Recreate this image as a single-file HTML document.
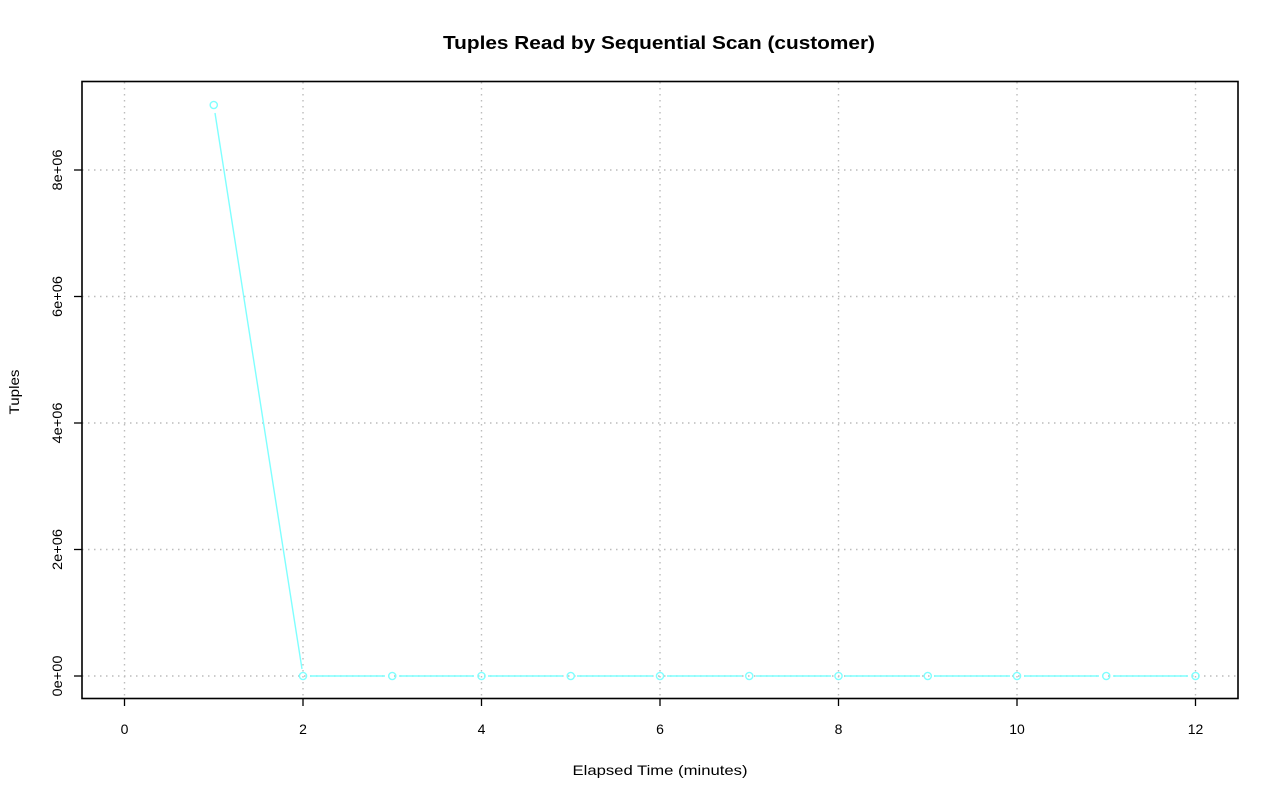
<!DOCTYPE html>
<html><head><meta charset="utf-8"><style>
html,body{margin:0;padding:0;background:#fff;}
svg{display:block;font-family:"Liberation Sans",Arial,sans-serif;}
</style></head><body>
<svg width="1280" height="801" viewBox="0 0 1280 801" xmlns="http://www.w3.org/2000/svg">
<rect width="1280" height="801" fill="#fff"/>
<text x="659" y="49" text-anchor="middle" font-size="18" font-weight="bold" textLength="432" lengthAdjust="spacingAndGlyphs">Tuples Read by Sequential Scan (customer)</text>
<g stroke="#bcbcbc" stroke-width="1.4" stroke-dasharray="1.5,4.5">
<line x1="124.5" y1="82" x2="124.5" y2="698"/>
<line x1="303" y1="82" x2="303" y2="698"/>
<line x1="481.5" y1="82" x2="481.5" y2="698"/>
<line x1="660" y1="82" x2="660" y2="698"/>
<line x1="838.5" y1="82" x2="838.5" y2="698"/>
<line x1="1017" y1="82" x2="1017" y2="698"/>
<line x1="1195.5" y1="82" x2="1195.5" y2="698"/>
<line x1="82" y1="676" x2="1238" y2="676"/>
<line x1="82" y1="549.5" x2="1238" y2="549.5"/>
<line x1="82" y1="423" x2="1238" y2="423"/>
<line x1="82" y1="296.5" x2="1238" y2="296.5"/>
<line x1="82" y1="170" x2="1238" y2="170"/>
</g>
<rect x="82" y="81.5" width="1156" height="617" fill="none" stroke="#000" stroke-width="1.6"/>
<g stroke="#000" stroke-width="1.3">
<line x1="124.5" y1="698" x2="124.5" y2="706"/>
<line x1="303" y1="698" x2="303" y2="706"/>
<line x1="481.5" y1="698" x2="481.5" y2="706"/>
<line x1="660" y1="698" x2="660" y2="706"/>
<line x1="838.5" y1="698" x2="838.5" y2="706"/>
<line x1="1017" y1="698" x2="1017" y2="706"/>
<line x1="1195.5" y1="698" x2="1195.5" y2="706"/>
<line x1="82" y1="676" x2="74" y2="676"/>
<line x1="82" y1="549.5" x2="74" y2="549.5"/>
<line x1="82" y1="423" x2="74" y2="423"/>
<line x1="82" y1="296.5" x2="74" y2="296.5"/>
<line x1="82" y1="170" x2="74" y2="170"/>
</g>
<g font-size="14" text-anchor="middle" fill="#000">
<text x="124.5" y="734">0</text>
<text x="303" y="734">2</text>
<text x="481.5" y="734">4</text>
<text x="660" y="734">6</text>
<text x="838.5" y="734">8</text>
<text x="1017" y="734">10</text>
<text x="1195.5" y="734">12</text>
<text transform="translate(62,676) rotate(-90)" textLength="41" lengthAdjust="spacingAndGlyphs">0e+00</text>
<text transform="translate(62,549.5) rotate(-90)" textLength="41" lengthAdjust="spacingAndGlyphs">2e+06</text>
<text transform="translate(62,423) rotate(-90)" textLength="41" lengthAdjust="spacingAndGlyphs">4e+06</text>
<text transform="translate(62,296.5) rotate(-90)" textLength="41" lengthAdjust="spacingAndGlyphs">6e+06</text>
<text transform="translate(62,170) rotate(-90)" textLength="41" lengthAdjust="spacingAndGlyphs">8e+06</text>
<text x="660" y="775" textLength="175" lengthAdjust="spacingAndGlyphs">Elapsed Time (minutes)</text>
<text transform="translate(19,392) rotate(-90)" textLength="45" lengthAdjust="spacingAndGlyphs">Tuples</text>
</g>
<g stroke="#7fffff" stroke-width="1.4" fill="none">
<line x1="215" y1="113" x2="302" y2="669"/>
<line x1="310" y1="676" x2="385" y2="676"/>
<line x1="399" y1="676" x2="474" y2="676"/>
<line x1="488" y1="676" x2="563" y2="676"/>
<line x1="577" y1="676" x2="653" y2="676"/>
<line x1="667" y1="676" x2="742" y2="676"/>
<line x1="756" y1="676" x2="831" y2="676"/>
<line x1="845" y1="676" x2="920" y2="676"/>
<line x1="934" y1="676" x2="1010" y2="676"/>
<line x1="1024" y1="676" x2="1099" y2="676"/>
<line x1="1113" y1="676" x2="1188" y2="676"/>
<circle cx="213.75" cy="105" r="3.6"/>
<circle cx="303" cy="676" r="3.6"/>
<circle cx="392.25" cy="676" r="3.6"/>
<circle cx="481.5" cy="676" r="3.6"/>
<circle cx="570.75" cy="676" r="3.6"/>
<circle cx="660" cy="676" r="3.6"/>
<circle cx="749.25" cy="676" r="3.6"/>
<circle cx="838.5" cy="676" r="3.6"/>
<circle cx="927.75" cy="676" r="3.6"/>
<circle cx="1017" cy="676" r="3.6"/>
<circle cx="1106.25" cy="676" r="3.6"/>
<circle cx="1195.5" cy="676" r="3.6"/>
</g>
</svg>
</body></html>
